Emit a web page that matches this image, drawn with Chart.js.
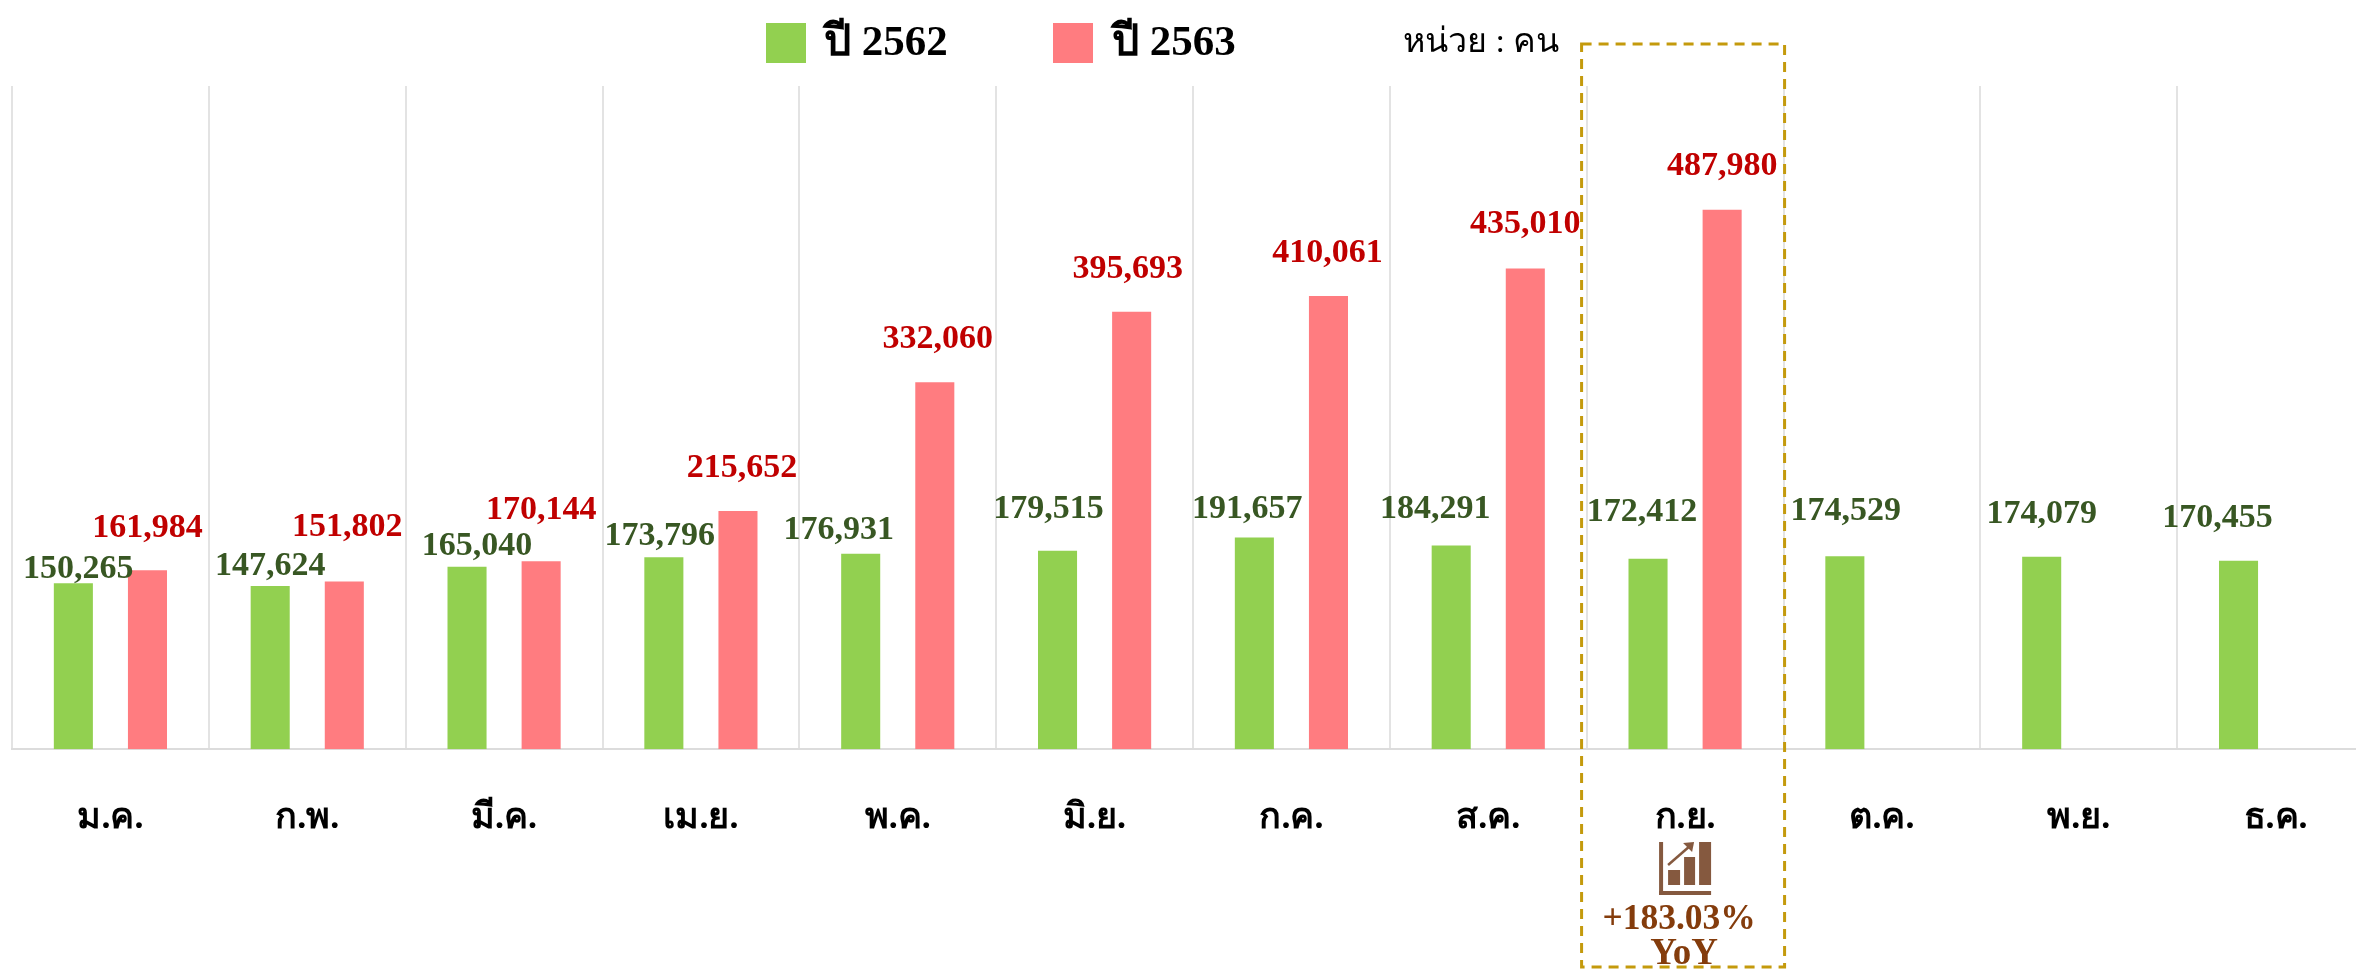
<!DOCTYPE html>
<html lang="th">
<head>
<meta charset="utf-8">
<title>ปี 2562 / ปี 2563</title>
<script src="https://cdn.jsdelivr.net/npm/chart.js@4"></script>
<style>
html, body { margin: 0; padding: 0; background: #fff; overflow: hidden; }
#wrap { width: 2356px; height: 969px; overflow: hidden; }
canvas { display: block; }
</style>
</head>
<body>
<div id="wrap"><canvas id="graph" width="2400" height="969"></canvas></div>
<script>
const mois = ["ม.ค.", "ก.พ.", "มี.ค.", "เม.ย.", "พ.ค.", "มิ.ย.", "ก.ค.", "ส.ค.", "ก.ย.", "ต.ค.", "พ.ย.", "ธ.ค."];
const valeurs2562 = [150265, 147624, 165040, 173796, 176931, 179515, 191657, 184291, 172412, 174529, 174079, 170455];
const valeurs2563 = [161984, 151802, 170144, 215652, 332060, 395693, 410061, 435010, 487980];
const nomSerie2562 = "ปี 2562";
const nomSerie2563 = "ปี 2563";
const texteUnite = "หน่วย : คน";
const texteYoY = ["+183.03%", "YoY"];
const moisSurligne = 8;

// label nudges (px), the original labels were moved by hand
const decale2562 = [[5, -14], [0, -20], [10, -21], [-4, -21], [-22, -23], [-9, -42], [-7, -28], [-16, -36], [-6, -46], [1, -45], [0, -43], [-21, -43]];
const decale2563 = [[0, -42], [3, -54], [0, -51], [4, -43], [3, -43], [-4, -43], [-1, -43], [0, -44], [0, -44]];

const VERT = "#92d050";
const ROSE = "#ff7c80";
const SERIF = '"Liberation Serif", "Times New Roman", serif';

// valeurs au dessus des barres
const pluginValeurs = {
  id: "valeurs",
  afterDatasetsDraw(chart) {
    const ctx = chart.ctx;
    const couleurs = ["#385723", "#c00000"];
    const decales = [decale2562, decale2563];
    ctx.save();
    ctx.font = "bold 34px " + SERIF;
    ctx.textAlign = "center";
    ctx.textBaseline = "middle";
    chart.data.datasets.forEach((ds, i) => {
      ctx.fillStyle = couleurs[i];
      chart.getDatasetMeta(i).data.forEach((bar, j) => {
        const d = decales[i][j];
        ctx.fillText(ds.data[j].toLocaleString("en-US"), bar.x + d[0], bar.y + d[1]);
      });
    });
    ctx.restore();
  }
};

// legende + unite
const pluginLegende = {
  id: "legendeMain",
  afterDraw(chart) {
    const ctx = chart.ctx;
    ctx.save();
    ctx.textBaseline = "alphabetic";
    ctx.textAlign = "left";
    ctx.fillStyle = VERT;
    ctx.fillRect(766, 23, 40, 40);
    ctx.fillStyle = ROSE;
    ctx.fillRect(1053, 23, 40, 40);
    ctx.fillStyle = "#000";
    ctx.font = "bold 43px " + SERIF;
    ctx.fillText(nomSerie2562, 824, 55);
    ctx.fillText(nomSerie2563, 1112, 55);
    ctx.font = "34px " + SERIF;
    ctx.fillText(texteUnite, 1403, 52);
    ctx.restore();
  }
};

// cadre pointillé sur ก.ย. avec icone
const pluginCadre = {
  id: "cadre",
  afterDraw(chart) {
    const ctx = chart.ctx;
    const cx = chart.scales.x.getPixelForValue(moisSurligne);
    ctx.save();
    ctx.strokeStyle = "#c49a0c";
    ctx.lineWidth = 3;
    ctx.setLineDash([10, 7]);
    ctx.strokeRect(cx - 103.5, 44, 203, 923);
    ctx.setLineDash([]);

    // icone
    const ix = cx - 26, iy = 842;
    ctx.fillStyle = "#85593f";
    ctx.strokeStyle = "#85593f";
    ctx.fillRect(ix, iy, 4, 53);
    ctx.fillRect(ix, iy + 49, 52, 4);
    ctx.fillRect(ix + 9, iy + 28, 12, 15);
    ctx.fillRect(ix + 25, iy + 15, 11, 28);
    ctx.fillRect(ix + 40, iy, 12, 43);
    ctx.lineWidth = 2.5;
    ctx.beginPath();
    ctx.moveTo(ix + 9, iy + 23);
    ctx.lineTo(ix + 32, iy + 3);
    ctx.stroke();
    ctx.beginPath();
    ctx.moveTo(ix + 35, iy);
    ctx.lineTo(ix + 24, iy + 1);
    ctx.lineTo(ix + 33, iy + 10);
    ctx.closePath();
    ctx.fill();

    ctx.fillStyle = "#843c0c";
    ctx.textAlign = "center";
    ctx.textBaseline = "middle";
    ctx.font = "bold 35.5px " + SERIF;
    ctx.fillText(texteYoY[0], cx - 6, 920);
    ctx.font = "bold 37px " + SERIF;
    ctx.fillText(texteYoY[1], cx - 1, 954);
    ctx.restore();
  }
};

new Chart(document.getElementById("graph").getContext("2d"), {
  type: "bar",
  data: {
    labels: mois,
    datasets: [
      { label: nomSerie2562, data: valeurs2562, backgroundColor: VERT },
      { label: nomSerie2563, data: valeurs2563, backgroundColor: ROSE }
    ]
  },
  options: {
    responsive: false,
    animation: false,
    categoryPercentage: 0.753,
    barPercentage: 0.527,
    layout: { padding: { left: 12, right: 26, top: 86, bottom: 81.5 } },
    plugins: { legend: { display: false }, tooltip: { enabled: false } },
    scales: {
      y: { display: false, min: 0, max: 600000 },
      x: {
        grid: { color: "#e3e3e3", lineWidth: 2, drawTicks: false },
        border: { color: "#dcdcdc", width: 2 },
        ticks: {
          color: "#000",
          padding: 47.5,
          autoSkip: false,
          maxRotation: 0,
          font: { family: SERIF, size: 36, weight: "bold" }
        }
      }
    }
  },
  plugins: [pluginValeurs, pluginLegende, pluginCadre]
});
</script>
</body>
</html>
